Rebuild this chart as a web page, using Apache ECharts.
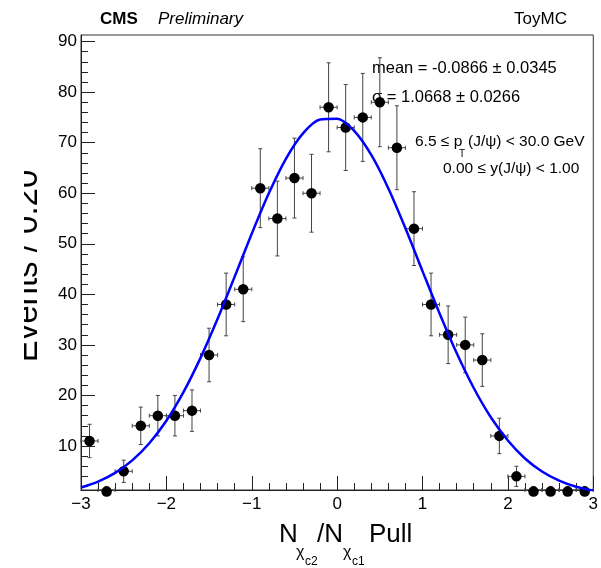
<!DOCTYPE html>
<html><head><meta charset="utf-8">
<script src="https://cdn.jsdelivr.net/npm/echarts@6/dist/echarts.min.js"></script>
<style>html,body{margin:0;padding:0;background:#fff}#c{width:601px;height:568px}</style>
</head><body><div id="c"></div>
<script>
// ---- data ----
const binCenters = [-2.9,-2.7,-2.5,-2.3,-2.1,-1.9,-1.7,-1.5,-1.3,-1.1,-0.9,-0.7,-0.5,-0.3,-0.1,0.1,0.3,0.5,0.7,0.9,1.1,1.3,1.5,1.7,1.9,2.1,2.3,2.5,2.7,2.9];
const counts = [11,1,5,14,16,16,17,28,38,41,61,55,63,60,77,73,75,78,69,53,38,32,30,27,12,4,1,1,1,1];
const countErrors = [3.3,1,2.2,3.7,4,4,4.1,5.3,6.2,6.4,7.8,7.4,7.9,7.7,8.8,8.5,8.7,8.8,8.3,7.3,6.2,5.7,5.5,5.2,3.5,2,1,1,1,1];
const binHalfWidth = 0.1;
const fitX = [-3,-2.8,-2.6,-2.4,-2.2,-2,-1.8,-1.6,-1.4,-1.2,-1,-0.8,-0.6,-0.4,-0.2,0,0.2,0.4,0.6,0.8,1,1.2,1.4,1.6,1.8,2,2.2,2.4,2.6,2.8,3];
const fitY = [1.8,2.96,4.68,7.15,10.55,15.0,20.66,27.44,35.17,43.51,52.0,59.99,66.81,71.84,74.58,74.75,72.33,67.57,60.95,53.08,44.6,36.23,28.39,21.48,15.69,11.1,7.54,4.95,3.14,1.93,1.14];
const yRange = [1.3, 91.3];
const xRange = [-3, 3];
const yMajorTicks = [10,20,30,40,50,60,70,80,90];
const yMinorTicks = [2,4,6,8,12,14,16,18,22,24,26,28,32,34,36,38,42,44,46,48,52,54,56,58,62,64,66,68,72,74,76,78,82,84,86,88];

const FONT = "'Liberation Sans', Arial, sans-serif";
const chart = echarts.init(document.getElementById('c'), null, {renderer:'canvas'});

function txt(text, x, y, size, opts) {
  opts = opts || {};
  return {
    type: 'text', x: x, y: y, z: opts.z != null ? opts.z : 1, rotation: opts.rotation || 0,
    style: {
      text: text,
      font: (opts.style || 'normal') + ' ' + (opts.weight || 'normal') + ' ' + size + 'px ' + FONT,
      fill: '#000',
      align: opts.align || 'left', textAlign: opts.align || 'left',
      verticalAlign: opts.va || 'middle', textVerticalAlign: opts.va || 'middle'
    }
  };
}

const option = {
  animation: false,
  grid: {left: 81, right: 4, top: 35, bottom: 78, show: true, borderColor: '#333', borderWidth: 1, backgroundColor: 'transparent'},
  xAxis: {
    type: 'value', min: xRange[0], max: xRange[1], interval: 1,
    axisLine: {onZero: false, lineStyle: {color: '#222', width: 1}},
    axisTick: {inside: true, length: 14, lineStyle: {color: '#222'}},
    minorTick: {show: true, splitNumber: 5, length: 7, lineStyle: {color: '#222'}},
    splitLine: {show: false},
    axisLabel: {margin: 6, fontSize: 17, fontFamily: FONT, color: '#000',
      formatter: v => v < 0 ? '\u2212' + Math.abs(v) : String(v)}
  },
  yAxis: [
    {
      type: 'value', min: yRange[0], max: yRange[1], position: 'left',
      axisLine: {show: true, onZero: false, lineStyle: {color: '#222', width: 1}},
      axisTick: {inside: true, length: 14, customValues: yMajorTicks, lineStyle: {color: '#222'}},
      minorTick: {show: false},
      splitLine: {show: false},
      axisLabel: {margin: 4, fontSize: 17, fontFamily: FONT, color: '#000', customValues: yMajorTicks,
        formatter: v => String(Math.round(v))}
    },
    {
      type: 'value', min: yRange[0], max: yRange[1], position: 'left', offset: 0,
      axisLine: {show: false, onZero: false},
      axisTick: {show: true, inside: true, length: 7, customValues: yMinorTicks, lineStyle: {color: '#222'}},
      axisLabel: {show: false},
      splitLine: {show: false}
    }
  ],
  series: [
    {
      type: 'custom', z: 2,
      data: binCenters.map((x, i) => [x, counts[i], countErrors[i]]),
      renderItem: function (params, api) {
        const x = api.value(0), y = api.value(1), e = api.value(2);
        const cs = params.coordSys;
        const yb = cs.y + cs.height;
        const c = api.coord([x, y]);
        const t = api.coord([x, y + e]);
        const b = api.coord([x, y - e]);
        const l = api.coord([x - binHalfWidth, y]);
        const r = api.coord([x + binHalfWidth, y]);
        const cy = Math.min(c[1], yb);
        const by = Math.min(b[1], yb);
        const st = {stroke: '#444', lineWidth: 1};
        const ln = (x1, y1, x2, y2) => ({type: 'line', shape: {x1, y1, x2, y2}, style: st});
        return {type: 'group', children: [
          ln(c[0], t[1], c[0], by),
          ln(c[0] - 2, t[1], c[0] + 2, t[1]),
          ln(c[0] - 2, by, c[0] + 2, by),
          ln(l[0], cy, r[0], cy),
          ln(l[0], cy - 2, l[0], cy + 2),
          ln(r[0], cy - 2, r[0], cy + 2)
        ]};
      }
    },
    {
      type: 'scatter', z: 3, clip: false,
      symbol: 'circle', symbolSize: 10.5,
      itemStyle: {color: '#000', opacity: 1},
      data: binCenters.map((x, i) => [x, counts[i]])
    },
    {
      type: 'line', z: 4, smooth: 0.3, showSymbol: false, symbol: 'none',
      lineStyle: {color: '#0000ff', width: 2.5},
      data: fitX.map((x, i) => [x, fitY[i]])
    }
  ],
  graphic: {elements: [
    txt('CMS', 100, 19, 17, {weight: 'bold'}),
    txt('Preliminary', 158, 19, 17, {style: 'italic'}),
    txt('ToyMC', 567, 19, 17, {align: 'right'}),
    txt('mean = -0.0866 \u00b1 0.0345', 372, 68, 16.5),
    txt('\u03c3 = 1.0668 \u00b1 0.0266', 372, 97, 16.5),
    txt('6.5 \u2264 p', 415, 142, 15.5),
    txt('T', 459, 154, 10),
    txt('(J/\u03c8) < 30.0 GeV', 468, 142, 15.5),
    txt('0.00 \u2264 y(J/\u03c8) < 1.00', 443, 169, 15.5),
    txt('N', 279, 535, 26),
    txt('\u03c7', 296, 553, 16),
    txt('c2', 305, 562, 12),
    txt('/N', 317, 535, 26),
    txt('\u03c7', 343, 553, 16),
    txt('c1', 352, 562, 12),
    txt('Pull', 369, 535, 26),
    txt('Events / 0.20', 44, 266, 33, {rotation: Math.PI / 2, align: 'center', va: 'bottom'}),
    {type: 'rect', z: 100, shape: {x: 0, y: 140, width: 24, height: 260}, style: {fill: '#fff'}}
  ]}
};
chart.setOption(option);
</script></body></html>
